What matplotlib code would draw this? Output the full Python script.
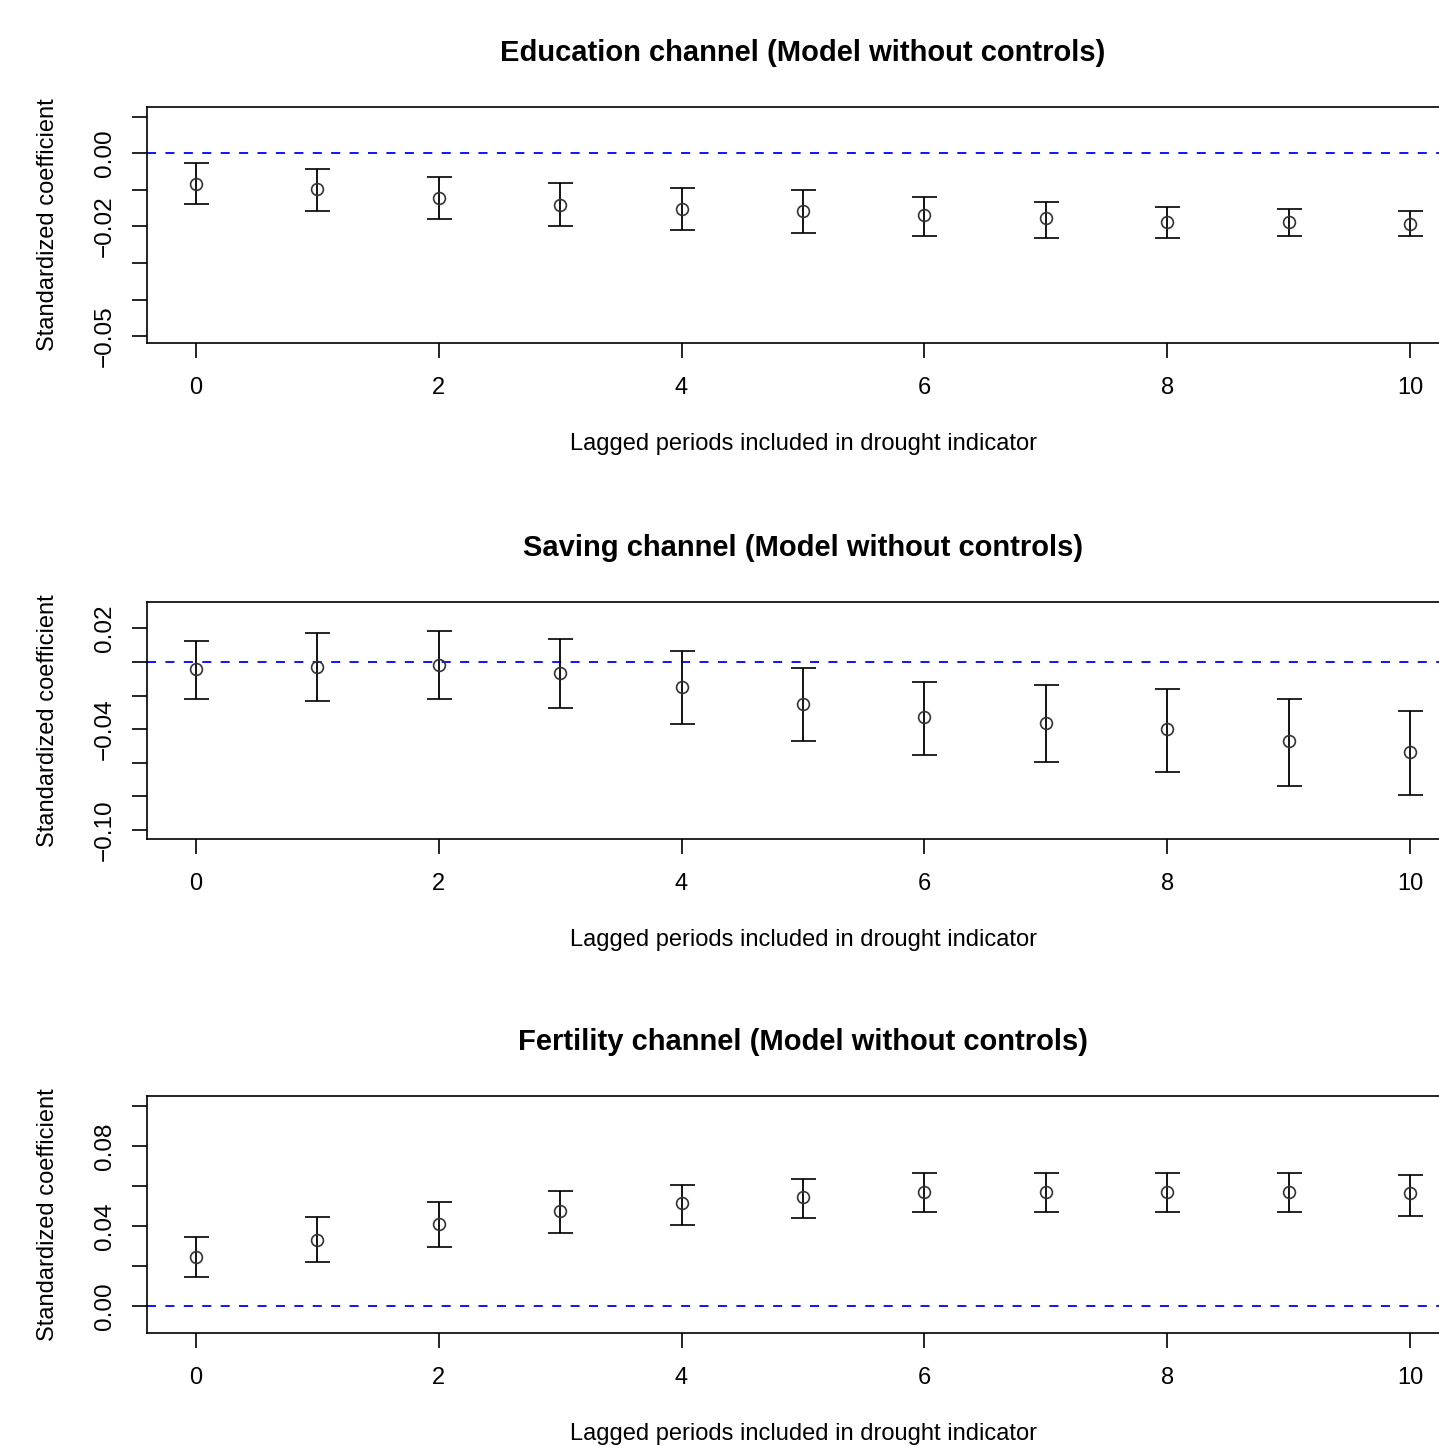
# Lag-length sensitivity plots for the three channels (model without controls)

import numpy as np
import matplotlib
matplotlib.use("Agg")
import matplotlib.pyplot as plt

plt.rcParams['font.family'] = ['Liberation Sans', 'DejaVu Sans']

lags = list(range(11))

# Education channel
edu_est = [-0.0083, -0.0098, -0.0121, -0.0141, -0.0152, -0.0157, -0.0168, -0.0178, -0.0188, -0.0188, -0.0193]
edu_lo = [-0.0139, -0.0159, -0.0179, -0.0200, -0.0211, -0.0217, -0.0226, -0.0232, -0.0232, -0.0226, -0.0226]
edu_hi = [-0.0027, -0.0043, -0.0064, -0.0080, -0.0096, -0.0100, -0.0118, -0.0132, -0.0148, -0.0152, -0.0159]

# Saving channel
sav_est = [-0.0043, -0.0032, -0.0018, -0.0064, -0.0147, -0.0250, -0.0329, -0.0365, -0.0399, -0.0468, -0.0538]
sav_lo = [-0.0220, -0.0230, -0.0220, -0.0276, -0.0369, -0.0470, -0.0552, -0.0597, -0.0657, -0.0736, -0.0794]
sav_hi = [0.0125, 0.0171, 0.0183, 0.0137, 0.0067, -0.0036, -0.0117, -0.0137, -0.0163, -0.0220, -0.0290]

# Fertility channel
fer_est = [0.0244, 0.0330, 0.0410, 0.0475, 0.0514, 0.0544, 0.0572, 0.0572, 0.0572, 0.0572, 0.0564]
fer_lo = [0.0144, 0.0220, 0.0297, 0.0367, 0.0404, 0.0442, 0.0472, 0.0472, 0.0472, 0.0472, 0.0452]
fer_hi = [0.0347, 0.0444, 0.0519, 0.0577, 0.0605, 0.0635, 0.0664, 0.0664, 0.0664, 0.0664, 0.0654]

titles = ["Education channel (Model without controls)",
          "Saving channel (Model without controls)",
          "Fertility channel (Model without controls)"]

# y ticks, labelled values and limits per panel
yticks = [[0.01, 0.00, -0.01, -0.02, -0.03, -0.04, -0.05],
          [0.02, 0.00, -0.02, -0.04, -0.06, -0.08, -0.10],
          [0.00, 0.02, 0.04, 0.06, 0.08, 0.10]]
ylabelled = [[0.00, -0.02, -0.05],
             [0.02, -0.04, -0.10],
             [0.00, 0.04, 0.08]]
ylims = [(-0.0519, 0.0127), (-0.1054, 0.0357), (-0.0135, 0.105)]

panels = [(edu_est, edu_lo, edu_hi), (sav_est, sav_lo, sav_hi), (fer_est, fer_lo, fer_hi)]

W, H = 1439, 1446
fig = plt.figure(figsize=(W / 100, H / 100), dpi=100)

# axes boxes in pixels: left, top, right, bottom (right side runs off the image)
boxes = [(147, 107, 1459, 343), (147, 602, 1459, 839), (147, 1096, 1459, 1333)]


def fmt(v):
    s = "%.2f" % v
    return s.replace("-", "\u2212")


for i, (est, lo, hi) in enumerate(panels):
    l, t, r, b = boxes[i]
    ax = fig.add_axes([l / W, (H - b) / H, (r - l) / W, (b - t) / H])
    est = np.array(est)
    yerr = [est - np.array(lo), np.array(hi) - est]
    ax.axhline(0, color='#0000ff', lw=1.3, linestyle=(0, (5.0, 5.2)), zorder=1)
    ax.errorbar(lags, est, yerr=yerr, fmt='o', mfc='none', mec='#333333', ms=8.5,
                mew=1.2, ecolor='black', elinewidth=1.3, capsize=9, capthick=1.3, zorder=2)
    ax.set_xlim(-0.4, 10.4)
    ax.set_ylim(*ylims[i])
    ax.set_xticks([0, 2, 4, 6, 8, 10])
    ax.set_yticks(yticks[i])
    ax.set_yticklabels([fmt(v) if any(abs(v - u) < 1e-9 for u in ylabelled[i]) else ""
                        for v in yticks[i]])
    ax.tick_params(axis='x', length=10.5, width=1.2, pad=14, labelsize=17)
    ax.tick_params(axis='y', length=10.5, width=1.2, pad=12, labelsize=17.5, labelrotation=90)
    for lab in ax.get_yticklabels():
        lab.set_va('center')
    for side in ['left', 'top', 'bottom', 'right']:
        ax.spines[side].set_linewidth(1.2)
    ax.set_title(titles[i], fontsize=21, fontweight='bold', pad=33,
                 x=(803 - l) / (r - l))
    ax.set_xlabel("Lagged periods included in drought indicator", fontsize=17)
    ax.xaxis.set_label_coords((803 - l) / (r - l), -90 / (b - t))
    ax.xaxis.label.set_va('top')
    ax.set_ylabel("Standardized coefficient", fontsize=17)
    ax.yaxis.set_label_coords(-(147 - 59) / (r - l), 0.5)

fig.savefig("out.png", dpi=100)
